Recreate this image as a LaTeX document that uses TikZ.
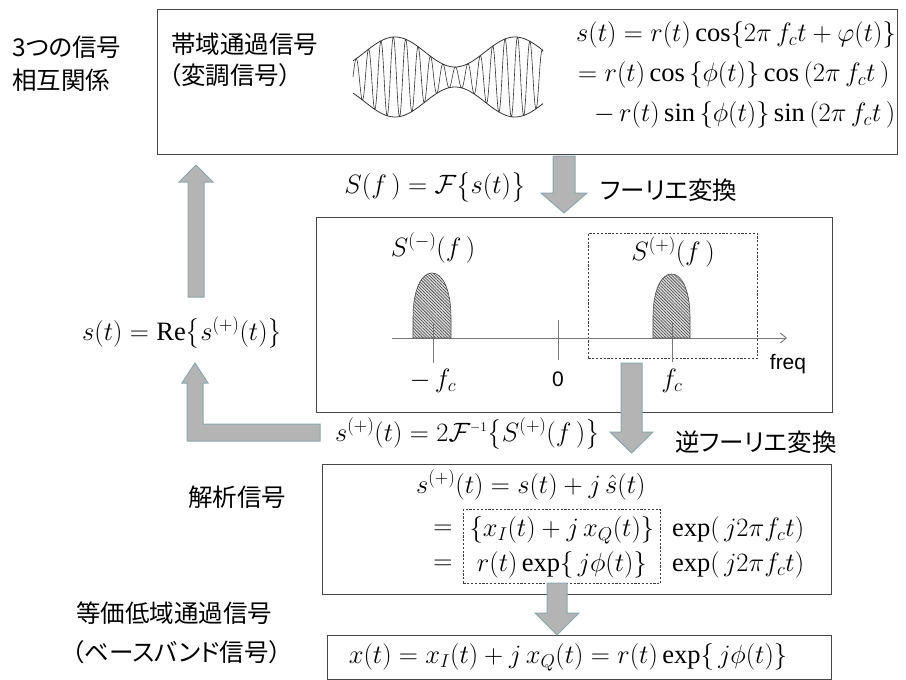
\documentclass[tikz,border=0pt]{standalone}
\usepackage{fix-cm}
\usepackage{amsmath}
\usepackage{fontspec}
\setmainfont{Liberation Serif}
\newfontfamily\jpfont[RawFeature=+palt]{Noto Sans CJK JP}
\newfontfamily\sansfont{Liberation Sans}
\usetikzlibrary{patterns.meta,arrows.meta}
\definecolor{boxgray}{RGB}{70,70,70}
\definecolor{arrfill}{RGB}{180,180,180}
\definecolor{arredge}{RGB}{140,168,174}
\definecolor{axisgray}{RGB}{120,120,120}
\tikzset{
  box/.style={draw=boxgray, line width=1.3pt, inner sep=0pt},
  dbox/.style={draw=black!75, line width=0.8pt, dash pattern=on 2.2pt off 1.6pt},
  jp/.style={font=\jpfont\fontsize{24.5}{28}\selectfont, inner sep=0pt},
  eq/.style={font=\fontsize{26.5}{30}\selectfont, inner sep=0pt},
  blockarrow/.style={fill=arrfill, draw=arredge, line width=1pt, line join=miter},
  lobe/.style={draw=black!70, line width=0.6pt,
    preaction={fill=black!15},
    pattern={Lines[angle=-45,distance=2.2pt,line width=0.55pt]}, pattern color=black!75},
  axisline/.style={draw=axisgray, line width=0.9pt},
}
\begin{document}
\begin{tikzpicture}[x=1pt,y=-1pt]
\useasboundingbox (0,0) rectangle (906,680);
\fill[white] (0,0) rectangle (906,680);

% ---------- boxes ----------
\node[box, anchor=north west, minimum width=740pt, minimum height=145pt] (topbox) at (157,9) {};
\node[box, anchor=north west, minimum width=516pt, minimum height=195pt] (specbox) at (316,217) {};
\node[dbox, anchor=north west, minimum width=169pt, minimum height=125pt] (plusbox) at (588,233) {};
\node[box, anchor=north west, minimum width=509pt, minimum height=130pt] (anabox) at (322,464) {};
\node[dbox, anchor=north west, minimum width=197pt, minimum height=74pt] (envbox) at (463,509) {};
\node[box, anchor=north west, minimum width=504pt, minimum height=44pt] (basebox) at (327,635) {};

% ---------- Japanese labels ----------
\node[jp, anchor=west] (l1) at (12,47) {3つの信号};
\node[jp, anchor=west] (l2) at (12,80) {相互関係};
\node[jp, anchor=west] (bp1) at (171,44) {帯域通過信号};
\node[jp, anchor=west] (bp2) at (169,75) {（変調信号）};
\node[jp, anchor=west] (ft) at (600,190) {フーリエ変換};
\node[jp, anchor=west] (ift) at (675,442) {逆フーリエ変換};
\node[jp, anchor=west] (ana) at (188,497) {解析信号};
\node[jp, anchor=west] (lp1) at (76,613) {等価低域通過信号};
\node[jp, anchor=west] (lp2) at (72,652) {（ベースバンド信号）};

% ---------- modulated waveform ----------
\draw[black!80, line width=0.6pt] plot[domain=353:543, samples=700]
  (\x, {77 - (25-15*cos(3*(\x-455)))*sin(29*(\x-353))});
\draw[black!80, line width=0.8pt] plot[domain=353:543, samples=120, smooth]
  (\x, {77 - (25-15*cos(3*(\x-455)))});
\draw[black!80, line width=0.8pt] plot[domain=353:543, samples=120, smooth]
  (\x, {77 + (25-15*cos(3*(\x-455)))});

% ---------- top equations ----------
\node[eq, anchor=west] (e1) at (576,35) {$s(t) = r(t)\cos\{2\pi\, f_c t + \varphi(t)\}$};
\node[eq, anchor=west] (e2) at (578,75) {$= r(t)\cos\,\{\phi(t)\}\cos\,(2\pi\, f_c t\,)$};
\node[eq, anchor=west] (e3) at (594,115) {$-\,r(t)\sin\,\{\phi(t)\}\sin\,(2\pi\, f_c t\,)$};

\node[eq] (sf) at (435,187) {$S(f\,) = \mathcal{F}\bigl\{s(t)\bigr\}$};
\node[eq, anchor=west] (re) at (82,333) {$s(t) = \mathrm{Re}\bigl\{s^{(+)}(t)\bigr\}$};
\node[eq, anchor=west] (inv) at (335,434) {$s^{(+)}(t) = 2\mathcal{F}^{\scriptscriptstyle -1}\bigl\{S^{(+)}(f\,)\bigr\}$};

% ---------- spectrum ----------
\coordinate (axL) at (392,338);
\coordinate (axR) at (787,338);
\draw[axisline, -{Straight Barb[length=6pt,width=10pt]}] (axL) -- (axR);
\draw[axisline] (433,323) -- (433,363);
\draw[axisline] (558,320) -- (558,360);
\draw[axisline] (672,323) -- (672,362);
\path[lobe] (413,338) -- (413,318) .. controls (413,288) and (422,273) .. (432,273)
  .. controls (442,273) and (451,288) .. (451,318) -- (451,338) -- cycle;
\path[lobe] (653,338) -- (653,318) .. controls (653,288) and (662,274) .. (671.5,274)
  .. controls (681,274) and (690,288) .. (690,318) -- (690,338) -- cycle;
\draw[axisline] (433,323) -- (433,338);
\draw[axisline] (672,323) -- (672,338);

\node[eq] (sm) at (433,248) {$S^{(-)}(f\,)$};
\node[eq] (sp) at (673,252) {$S^{(+)}(f\,)$};
\node[eq] (mfc) at (433,381) {$-\,f_c$};
\node[font=\sansfont\fontsize{21}{24}\selectfont, inner sep=0pt] (zero) at (558,379) {0};
\node[eq] (fc) at (672,381) {$f_c$};
\node[font=\sansfont\fontsize{21}{24}\selectfont, inner sep=0pt] (freq) at (788,364) {freq};

% ---------- analytic signal box ----------
\node[eq, anchor=west] (a1) at (416,485) {$s^{(+)}(t) = s(t) + j\,\hat{s}(t)$};
\node[eq] (eqa) at (443,530) {$=$};
\node[eq] (eqb) at (443,565) {$=$};
\node[eq] (a2) at (envbox.center |- eqa) {$\{x_I(t) + j\,x_Q(t)\}$};
\node[eq] (a3) at (envbox.center |- eqb) {$r(t)\exp\{\,j\phi(t)\}$};
\node[eq, anchor=west] (a4) at (672,530) {$\exp(\,j2\pi f_c t)$};
\node[eq, anchor=west] (a5) at (672,565) {$\exp(\,j2\pi f_c t)$};

% ---------- baseband ----------
\node[eq] (bb) at (568,657) {$x(t) = x_I(t) + j\,x_Q(t) = r(t)\exp\{\,j\phi(t)\}$};

% ---------- block arrows ----------
\draw[blockarrow] (553,156) -- (575,156) -- (575,193) -- (587,193) -- (564,213)
  -- (541,193) -- (553,193) -- cycle;
\draw[blockarrow] (621,363) -- (642,363) -- (642,432) -- (653,432) -- (631.5,453)
  -- (610,432) -- (621,432) -- cycle;
\draw[blockarrow] (188,297) -- (204,297) -- (204,182) -- (213,182) -- (196,165)
  -- (179,182) -- (188,182) -- cycle;
\draw[blockarrow] (320,424) -- (320,441) -- (187,441) -- (187,383) -- (182,383)
  -- (195,363) -- (208,383) -- (203,383) -- (203,424) -- cycle;
\draw[blockarrow] (547,583) -- (567,583) -- (567,613) -- (579,613) -- (557,635)
  -- (535,613) -- (547,613) -- cycle;
\end{tikzpicture}
\end{document}
